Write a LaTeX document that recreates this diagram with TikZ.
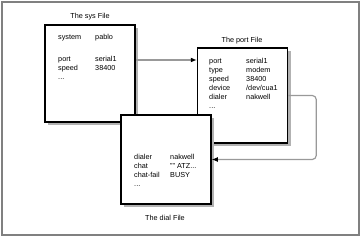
\documentclass[tikz,border=0pt]{standalone}
\usepackage{fontspec}
\setmainfont{Liberation Sans}
\usetikzlibrary{shadows, arrows.meta}

\begin{document}
\begin{tikzpicture}[
    x=0.3mm, y=-0.3mm,
    >=Latex,
    filebox/.style={
        draw, rectangle, line width=0.45mm, fill=white,
        minimum width=27mm, inner sep=0pt,
        drop shadow={shadow xshift=1mm, shadow yshift=-1mm, fill=black!30, opacity=1}
    },
    entries/.style={anchor=base west, inner sep=0pt, font=\fontsize{6.2}{7.7}\selectfont},
    filetitle/.style={anchor=base, inner sep=0pt, font=\fontsize{6.2}{7.2}\selectfont},
    link/.style={-{Latex[black, length=1.8mm, width=1.5mm]}, draw=black!40, line width=0.35mm}
]

% Frame
\fill[white] (0,0) rectangle (361,237);
\useasboundingbox (0,0) rectangle (361,237);
\draw[black!50, line width=0.45mm] (2,2) rectangle (359,235);

% -------------------------
% File Boxes
% -------------------------

% 1. sys file (Top Left)
\node[filebox, minimum height=29.1mm] (sys) at (90, 73.5) {};
\node[filetitle] (systitle) at (90, 19) {The sys File};
\node[entries] (sysentries) at (58, 40) {%
    \begin{tabular}[t]{@{}p{11.1mm}@{}l@{}}
    system & pablo \\[11pt]
    port & serial1 \\
    speed & 38400 \\
    ...
    \end{tabular}};

% 2. port file (Right)
\node[filebox, minimum height=28.5mm] (port) at (242.5, 95.5) {};
\node[filetitle] (porttitle) at (242, 42.5) {The port File};
\node[entries] (portentries) at (209, 63.5) {%
    \begin{tabular}[t]{@{}p{11.1mm}@{}l@{}}
    port & serial1 \\
    type & modem \\
    speed & 38400 \\
    device & /dev/cua1 \\
    dialer & nakwell \\
    ...
    \end{tabular}};

% 3. dial file (Bottom, in front)
\node[filebox, minimum height=26.7mm] (dial) at (166, 159.5) {};
\node[filetitle] (dialtitle) at (165, 220.5) {The dial File};
\node[entries] (dialentries) at (134, 159.5) {%
    \begin{tabular}[t]{@{}p{10.8mm}@{}l@{}}
    dialer & nakwell \\
    chat & "" ATZ... \\
    chat-fail & BUSY \\
    ...
    \end{tabular}};

% -------------------------
% Connections
% -------------------------

% sys -> port
\coordinate (sysout) at (sys.east |- 0,60);
\draw[link] (sysout) -- (sysout -| port.west);

% port -> dial
\draw[link, rounded corners=1.2mm] (port.east) -- ++(28,0) |- (dial.east);

\end{tikzpicture}
\end{document}
